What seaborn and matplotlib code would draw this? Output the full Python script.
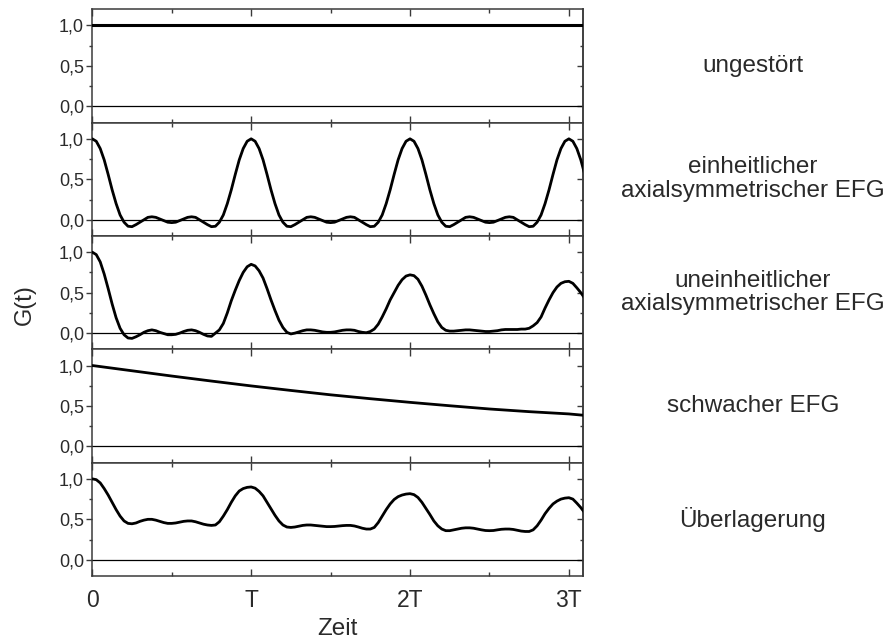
import numpy as np
import pandas as pd
import matplotlib
matplotlib.use("Agg")
import matplotlib.pyplot as plt
import matplotlib.transforms as mtransforms
from matplotlib.ticker import MultipleLocator, FixedLocator
import seaborn as sns

# ---------------- data (time in units of T) ----------------
t_fine = [round(0.025 * i, 3) for i in range(125)]  # 0 ... 3.1

t_const = [0.0, 3.1]
g_ungestoert = [1.0, 1.0]

g_einheitlich = [
    1.00, 0.97, 0.88, 0.74, 0.56, 0.37, 0.20, 0.06, -0.03, -0.08,
    -0.085, -0.06, -0.03, 0.00, 0.03, 0.037, 0.03, 0.01, -0.01, -0.03,
    -0.035, -0.03, -0.01, 0.01, 0.03, 0.037, 0.03, 0.00, -0.03, -0.06,
    -0.085, -0.08, -0.03, 0.06, 0.20, 0.37, 0.56, 0.74, 0.88, 0.97,
    1.00, 0.97, 0.88, 0.74, 0.56, 0.37, 0.20, 0.06, -0.03, -0.08,
    -0.085, -0.06, -0.03, 0.00, 0.03, 0.037, 0.03, 0.01, -0.01, -0.03,
    -0.035, -0.03, -0.01, 0.01, 0.03, 0.037, 0.03, 0.00, -0.03, -0.06,
    -0.085, -0.08, -0.03, 0.06, 0.20, 0.37, 0.56, 0.74, 0.88, 0.97,
    1.00, 0.97, 0.88, 0.74, 0.56, 0.37, 0.20, 0.06, -0.03, -0.08,
    -0.085, -0.06, -0.03, 0.00, 0.03, 0.037, 0.03, 0.01, -0.01, -0.03,
    -0.035, -0.03, -0.01, 0.01, 0.03, 0.037, 0.03, 0.00, -0.03, -0.06,
    -0.085, -0.08, -0.03, 0.06, 0.20, 0.37, 0.56, 0.74, 0.88, 0.97,
    1.00, 0.97, 0.88, 0.74, 0.56,
]

g_uneinheitlich = [
    1.00, 0.97, 0.88, 0.73, 0.55, 0.36, 0.19, 0.06, -0.02, -0.06,
    -0.065, -0.045, -0.02, 0.01, 0.03, 0.04, 0.03, 0.01, -0.005, -0.02,
    -0.02, -0.015, 0.00, 0.02, 0.035, 0.04, 0.03, 0.01, -0.015, -0.035,
    -0.04, 0.00, 0.04, 0.12, 0.25, 0.40, 0.53, 0.65, 0.75, 0.82,
    0.85, 0.83, 0.77, 0.68, 0.55, 0.41, 0.28, 0.16, 0.07, 0.01,
    -0.01, 0.00, 0.015, 0.03, 0.04, 0.04, 0.035, 0.025, 0.015, 0.01,
    0.01, 0.015, 0.025, 0.035, 0.04, 0.04, 0.035, 0.02, 0.01, 0.005,
    0.02, 0.05, 0.11, 0.20, 0.30, 0.41, 0.50, 0.59, 0.66, 0.705,
    0.72, 0.71, 0.665, 0.58, 0.47, 0.35, 0.24, 0.14, 0.07, 0.035,
    0.025, 0.025, 0.03, 0.035, 0.04, 0.04, 0.035, 0.03, 0.025, 0.02,
    0.02, 0.025, 0.03, 0.04, 0.045, 0.045, 0.045, 0.045, 0.05, 0.05,
    0.06, 0.09, 0.13, 0.20, 0.31, 0.41, 0.50, 0.57, 0.615, 0.635,
    0.64, 0.615, 0.56, 0.50, 0.43,
]

t_schwach = [0.0, 0.25, 0.5, 0.75, 1.0, 1.25, 1.5, 1.75, 2.0, 2.25, 2.5, 2.75, 3.0, 3.1]
g_schwach = [1.0, 0.935, 0.87, 0.808, 0.748, 0.692, 0.638, 0.59, 0.545, 0.503,
             0.463, 0.43, 0.402, 0.384]

g_ueberlagerung = [
    1.00, 0.99, 0.95, 0.88, 0.80, 0.71, 0.62, 0.54, 0.48, 0.45,
    0.445, 0.455, 0.475, 0.49, 0.50, 0.50, 0.49, 0.475, 0.46, 0.45,
    0.45, 0.455, 0.465, 0.475, 0.48, 0.48, 0.47, 0.455, 0.44, 0.43,
    0.425, 0.43, 0.47, 0.54, 0.62, 0.71, 0.79, 0.85, 0.88, 0.895,
    0.90, 0.885, 0.845, 0.79, 0.71, 0.63, 0.55, 0.48, 0.43, 0.405,
    0.40, 0.405, 0.415, 0.425, 0.43, 0.43, 0.425, 0.42, 0.415, 0.41,
    0.41, 0.412, 0.417, 0.422, 0.425, 0.425, 0.418, 0.405, 0.39, 0.38,
    0.38, 0.40, 0.46, 0.54, 0.62, 0.69, 0.745, 0.78, 0.80, 0.812,
    0.817, 0.805, 0.77, 0.71, 0.635, 0.56, 0.48, 0.42, 0.38, 0.36,
    0.36, 0.37, 0.38, 0.39, 0.395, 0.395, 0.39, 0.38, 0.37, 0.362,
    0.36, 0.362, 0.37, 0.377, 0.38, 0.38, 0.375, 0.365, 0.355, 0.35,
    0.35, 0.37, 0.42, 0.49, 0.57, 0.635, 0.69, 0.725, 0.75, 0.762,
    0.767, 0.75, 0.70, 0.645, 0.58,
]

panel_labels = [
    "ungestört",
    "einheitlicher\naxialsymmetrischer EFG",
    "uneinheitlicher\naxialsymmetrischer EFG",
    "schwacher EFG",
    "Überlagerung",
]
x_tick_values = [0, 1, 2, 3]
x_tick_labels = ["0", "T", "2T", "3T"]
y_tick_values = [0.0, 0.5, 1.0]
y_tick_labels = ["0,0", "0,5", "1,0"]

series = [
    (t_const, g_ungestoert),
    (t_fine, g_einheitlich),
    (t_fine, g_uneinheitlich),
    (t_schwach, g_schwach),
    (t_fine, g_ueberlagerung),
]

# ---------------- style ----------------
sns.set_theme(style="ticks")
plt.rcParams["font.family"] = ["Liberation Sans", "DejaVu Sans"]
text_color = "#2a2a2a"
spine_color = "#3a3a3a"

fig, axes = plt.subplots(5, 1, sharex=True, figsize=(8.89, 6.41), dpi=100)
fig.subplots_adjust(left=0.1038, right=0.656, top=0.9855, bottom=0.1014, hspace=0)

for i, (ax, (tx, gy)) in enumerate(zip(axes, series)):
    df = pd.DataFrame({"t": tx, "G": gy})
    ax.axhline(0, color="black", lw=0.9, zorder=1)
    sns.lineplot(data=df, x="t", y="G", ax=ax, color="black",
                 lw=2.2 if i == 0 else 2.0, zorder=3, sort=False)
    ax.set_xlim(0, 3.09)
    ax.set_ylim(-0.2, 1.2)
    ax.set_xlabel("")
    ax.set_ylabel("")
    for sp in ax.spines.values():
        sp.set_visible(True)
        sp.set_color(spine_color)
        sp.set_linewidth(1.1)
    ax.yaxis.set_major_locator(FixedLocator(y_tick_values))
    ax.set_yticklabels(y_tick_labels, fontsize=13, color=text_color)
    ax.yaxis.set_minor_locator(MultipleLocator(0.25))
    ax.tick_params(axis="y", which="major", direction="out", length=4.5,
                   width=1.0, color=spine_color, left=True, right=False, pad=1.5)
    ax.tick_params(axis="y", which="minor", direction="out", length=2.5,
                   width=1.0, color=spine_color, left=True, right=False)
    sec = ax.secondary_yaxis("right")
    sec.yaxis.set_major_locator(FixedLocator(y_tick_values))
    sec.yaxis.set_minor_locator(MultipleLocator(0.25))
    sec.tick_params(axis="y", which="major", direction="in", length=4.5,
                    width=1.0, color=spine_color, labelright=False)
    sec.tick_params(axis="y", which="minor", direction="in", length=2.5,
                    width=1.0, color=spine_color)
    sec.spines["right"].set_color(spine_color)
    sec.spines["right"].set_linewidth(1.1)

    ax.xaxis.set_major_locator(FixedLocator(x_tick_values))
    ax.xaxis.set_minor_locator(MultipleLocator(0.5))
    ax.tick_params(axis="x", which="major", direction="in", length=5,
                   width=1.0, color=spine_color, top=True, bottom=True)
    ax.tick_params(axis="x", which="minor", direction="in", length=3,
                   width=1.0, color=spine_color, top=True, bottom=True)

    trans = mtransforms.blended_transform_factory(fig.transFigure, ax.transAxes)
    fig.text(0.847, 0.5, panel_labels[i], transform=trans, ha="center",
             va="center", fontsize=17.5, color=text_color, linespacing=1.1)

axes[-1].set_xticklabels(x_tick_labels, fontsize=16.5, color=text_color)
axes[-1].tick_params(axis="x", which="major", pad=9)
axes[-1].set_xlabel("Zeit", fontsize=17.5, color=text_color, labelpad=5)

fig.text(0.028, 1 - 305 / 641, "G(t)", rotation=90, ha="center", va="center",
         fontsize=17, color=text_color)

fig.savefig("out.png", dpi=100, facecolor="white")
